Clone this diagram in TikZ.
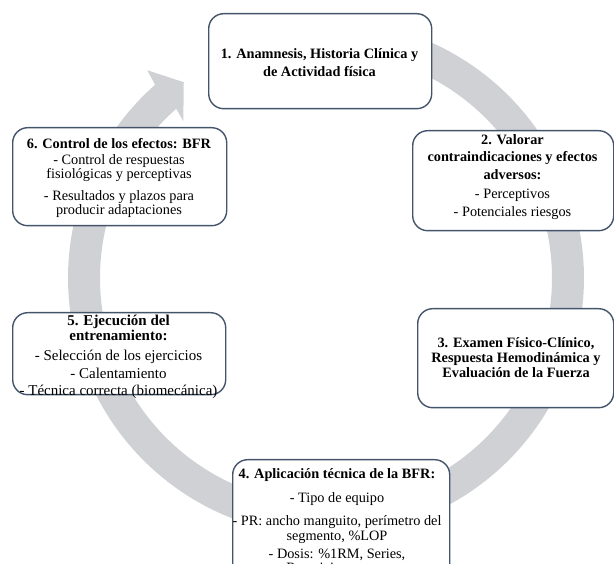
\documentclass[tikz,border=0pt]{standalone}
\usepackage{fontspec}
\setmainfont{Liberation Serif}
\definecolor{ringc}{RGB}{208,209,213}
\definecolor{edgec}{RGB}{68,84,106}
\tikzset{
  stepbox/.style={draw=edgec, line width=1.4pt, rounded corners=15pt, fill=white, anchor=north west, inner sep=0pt},
  txt/.style={align=center, inner sep=0pt, font=\fontsize{14.3}{15.5}\selectfont},
}
\begin{document}
\begin{tikzpicture}[x=1pt,y=-1pt]
\useasboundingbox (0,0) rectangle (614,564);
\clip (0,0) rectangle (614,564);
\begin{scope}[shift={(326,278)}]
\fill[ringc] plot[domain=-100:228.5,samples=200] (\x:258) -- (229.3:274) -- (234:242) -- (227.7:212) -- plot[domain=228.5:-100,samples=200] (\x:226) -- cycle;
\end{scope}
\node[stepbox, minimum width=223pt, minimum height=95pt] (b1) at (208,13) {};
\node[stepbox, minimum width=201pt, minimum height=100pt] (b2) at (412,130) {};
\node[stepbox, minimum width=196pt, minimum height=99pt] (b3) at (417,308) {};
\node[stepbox, minimum width=217pt, minimum height=130pt] (b4) at (232,459) {};
\node[stepbox, minimum width=213pt, minimum height=82pt] (b5) at (12,312) {};
\node[stepbox, minimum width=214pt, minimum height=98pt] (b6) at (12,127) {};
\node[txt] (t1) at (319.5,62.5) {\textbf{1. Anamnesis, Historia Clínica y}\\[3pt]\textbf{de Actividad física}};
\node[txt] (t2) at (512.5,177) {\textbf{2. Valorar}\\[2pt]\textbf{contraindicaciones y efectos}\\[2pt]\textbf{adversos:}\\[3.5pt]- Perceptivos\\[2.5pt]- Potenciales riesgos};
\node[txt] (t3) at (516,358) {\textbf{3. Examen Físico-Clínico,}\\[-0.5pt]\textbf{Respuesta Hemodinámica y}\\[-0.5pt]\textbf{Evaluación de la Fuerza}};
\node[txt, anchor=north] (t4) at (337,468) {\textbf{4. Aplicación técnica de la BFR:}\\[8.5pt]- Tipo de equipo\\[7.5pt]- PR: ancho manguito, perímetro del\\segmento, \%LOP\\[2.5pt]- Dosis: \%1RM, Series,\\[-1.5pt]Repeticiones, etc.};
\node[txt, font=\fontsize{15}{15.5}\selectfont] (t5) at (118.5,357) {\textbf{5. Ejecución del}\\[-0.5pt]\textbf{entrenamiento:}\\[4pt]- Selección de los ejercicios\\[3pt]- Calentamiento\\[1pt]- Técnica correcta (biomecánica)};
\node[txt] (t6) at (119,178) {\textbf{6. Control de los efectos: BFR}\\[0.5pt]- Control de respuestas\\[-1pt]fisiológicas y perceptivas\\[6pt]- Resultados y plazos para\\[-1pt]producir adaptaciones};
\end{tikzpicture}
\end{document}
